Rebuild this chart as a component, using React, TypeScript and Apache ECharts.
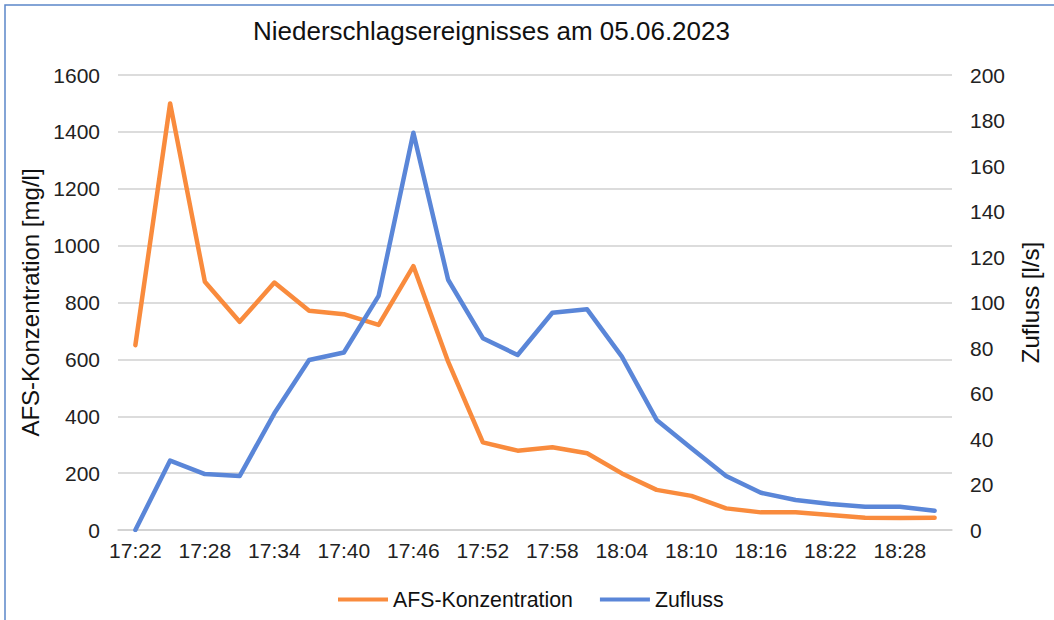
import React, { useEffect, useRef } from "react";
import * as echarts from "echarts";

const categories = [
  "17:22", "17:25", "17:28", "17:31", "17:34", "17:37", "17:40", "17:43",
  "17:46", "17:49", "17:52", "17:55", "17:58", "18:01", "18:04", "18:07",
  "18:10", "18:13", "18:16", "18:19", "18:22", "18:25", "18:28", "18:31",
];
const afsKonzentration = [
  650, 1500, 873, 732, 870, 771, 759, 721, 928, 592, 308, 279, 291, 270,
  199, 141, 120, 76, 62, 62, 53, 43, 42, 43,
];
const zufluss = [
  0, 30.5, 24.6, 23.7, 51.3, 74.7, 78, 102.9, 174.6, 110, 84.3, 76.9, 95.5,
  97, 76.2, 48.4, 35.9, 23.7, 16.4, 13.2, 11.4, 10.2, 10.2, 8.5,
];
const leftTicks = { min: 0, max: 1600, interval: 200 };
const rightTicks = { min: 0, max: 200, interval: 20 };

const FONT = "'Liberation Sans', Arial, sans-serif";
const ORANGE = "#F98B3D";
const BLUE = "#5A86D8";

export default function App() {
  const ref = useRef<HTMLDivElement>(null);
  useEffect(() => {
    if (!ref.current) return;
    const chart = echarts.init(ref.current, undefined, { renderer: "svg" });
    chart.setOption({
      animation: false,
      backgroundColor: "#ffffff",
      textStyle: { fontFamily: FONT },
      graphic: [
        {
          type: "rect",
          shape: { x: 5, y: 5, width: 1070, height: 640 },
          style: { fill: "none", stroke: "#5B87C9", lineWidth: 1.5 },
          silent: true,
        },
      ],
      title: {
        text: "Niederschlagsereignisses am 05.06.2023",
        left: 248,
        top: 13,
        textStyle: { fontFamily: FONT, fontSize: 26, fontWeight: "normal", color: "#111" },
      },
      legend: {
        top: 589,
        left: 338,
        padding: 0,
        itemWidth: 50,
        itemHeight: 4,
        itemGap: 27,
        icon: "rect",
        textStyle: { fontFamily: FONT, fontSize: 21.3, color: "#111" },
        data: ["AFS-Konzentration", "Zufluss"],
      },
      grid: { left: 118, right: 102, top: 75, bottom: 90, containLabel: false },
      xAxis: {
        type: "category",
        data: categories,
        boundaryGap: true,
        axisLine: { lineStyle: { color: "#d0d0d0", width: 1.5 } },
        axisTick: { show: false },
        axisLabel: { interval: 1, fontFamily: FONT, fontSize: 21, color: "#222", margin: 10 },
      },
      yAxis: [
        {
          type: "value",
          ...leftTicks,
          name: "AFS-Konzentration [mg/l]",
          nameLocation: "middle",
          nameRotate: 90,
          nameGap: 73,
          nameTextStyle: { fontFamily: FONT, fontSize: 24, color: "#111" },
          axisLine: { show: false },
          axisTick: { show: false },
          splitLine: { lineStyle: { color: "#d0d0d0", width: 1.5 } },
          axisLabel: {
            fontFamily: FONT, fontSize: 21, color: "#222", margin: 18,
            formatter: (v: number) => String(v),
          },
        },
        {
          type: "value",
          ...rightTicks,
          name: "Zufluss [l/s]",
          nameLocation: "middle",
          nameRotate: 90,
          nameGap: 66,
          nameTextStyle: { fontFamily: FONT, fontSize: 24, color: "#111" },
          position: "right",
          axisLine: { show: false },
          axisTick: { show: false },
          splitLine: { show: false },
          axisLabel: {
            fontFamily: FONT, fontSize: 21, color: "#222", margin: 18,
            formatter: (v: number) => String(v),
          },
        },
      ],
      series: [
        {
          name: "AFS-Konzentration",
          type: "line",
          yAxisIndex: 0,
          data: afsKonzentration,
          showSymbol: false,
          symbol: "none",
          color: ORANGE,
          lineStyle: { width: 4.5, color: ORANGE, join: "round", cap: "round" },
        },
        {
          name: "Zufluss",
          type: "line",
          yAxisIndex: 1,
          data: zufluss,
          showSymbol: false,
          symbol: "none",
          color: BLUE,
          lineStyle: { width: 4.5, color: BLUE, join: "round", cap: "round" },
        },
      ],
    });
    return () => chart.dispose();
  }, []);
  return (
    <div
      ref={ref}
      style={{ position: "fixed", left: 0, top: 0, width: 1054, height: 620 }}
    />
  );
}
